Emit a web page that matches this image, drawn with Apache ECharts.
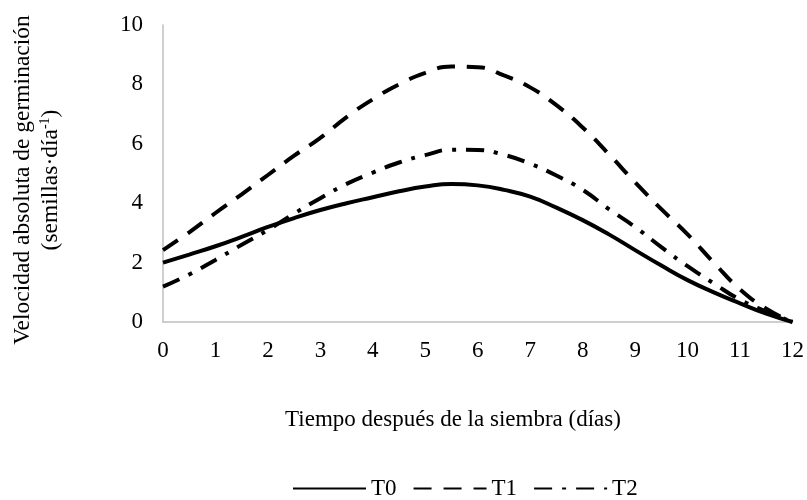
<!DOCTYPE html>
<html>
<head>
<meta charset="utf-8">
<script src="https://cdn.jsdelivr.net/npm/echarts@6/dist/echarts.min.js"></script>
<style>html,body{margin:0;padding:0;background:#fff}#c{width:807px;height:500px}</style>
</head>
<body>
<div id="c"></div>
<script>
const days = [0,0.5,1,1.5,2,2.5,3,3.5,4,4.5,5,5.5,6,6.5,7,7.5,8,8.5,9,9.5,10,10.5,11,11.5,12];
const T0 = [2.0,2.27,2.55,2.87,3.2,3.5,3.77,4.0,4.2,4.4,4.56,4.65,4.6,4.45,4.22,3.85,3.43,2.95,2.42,1.9,1.41,1.0,0.63,0.28,0];
const T1 = [2.42,3.02,3.67,4.3,4.95,5.6,6.2,6.9,7.5,8.0,8.39,8.6,8.58,8.3,7.9,7.3,6.55,5.65,4.7,3.8,2.95,2.0,1.1,0.45,0];
const T2 = [1.19,1.6,2.09,2.6,3.1,3.65,4.17,4.65,5.03,5.37,5.62,5.8,5.79,5.63,5.33,4.93,4.45,3.8,3.2,2.52,1.88,1.3,0.75,0.35,0];
const seriesNames = ['T0','T1','T2'];
const xTitle = 'Tiempo después de la siembra (días)';
const yTitle1 = 'Velocidad absoluta de germinación';
const yTitle2 = '(semillas·día{sup|-1})';

const FONT = '"Liberation Serif", "Times New Roman", serif';
const pairs = arr => days.map((d,i)=>[d,arr[i]]);
const dashes = ['solid',[18,12],[18,10,4,10]];
const all = [T0,T1,T2];

const chart = echarts.init(document.getElementById('c'), null, {renderer:'canvas'});
chart.setOption({
  animation:false,
  backgroundColor:'#fff',
  grid:{left:163,right:10,top:25,bottom:178,containLabel:false},
  xAxis:{type:'value',min:0,max:12,interval:1,
    axisLine:{lineStyle:{color:'#bfbfbf',width:1.5}},axisTick:{show:false},splitLine:{show:false},
    axisLabel:{color:'#000',fontFamily:FONT,fontSize:23,margin:17}},
  yAxis:{type:'value',min:0,max:10,interval:2,
    axisLine:{show:true,lineStyle:{color:'#bfbfbf',width:1.5}},axisTick:{show:false},splitLine:{show:false},
    axisLabel:{color:'#000',fontFamily:FONT,fontSize:23,margin:20}},
  legend:{top:472,left:287,itemWidth:73,itemHeight:14,itemGap:16,
    textStyle:{color:'#000',fontFamily:FONT,fontSize:23},
    itemStyle:{color:'transparent',borderColor:'transparent',borderWidth:0},
    data:seriesNames},
  graphic:[
    {type:'text',x:23,y:180,rotation:Math.PI/2,
      style:{text:yTitle1,fill:'#000',font:'23.5px '+FONT,align:'center',verticalAlign:'middle'}},
    {type:'text',x:51,y:180,rotation:Math.PI/2,
      style:{text:yTitle2,fill:'#000',font:'23.5px '+FONT,align:'center',verticalAlign:'middle',
        rich:{sup:{fontSize:14,fontFamily:FONT,fill:'#000',verticalAlign:'top',padding:[0,0,12,0]}}}},
    {type:'text',x:453,y:420,
      style:{text:xTitle,fill:'#000',font:'23px '+FONT,align:'center',verticalAlign:'middle'}}
  ],
  series: all.map((arr,i)=>({
    name:seriesNames[i],type:'line',smooth:0.5,symbol:'none',showSymbol:false,
    data:pairs(arr),
    lineStyle:{color:'#000',width:4,type:dashes[i]},
    itemStyle:{color:'#000'}
  }))
});
</script>
</body>
</html>
